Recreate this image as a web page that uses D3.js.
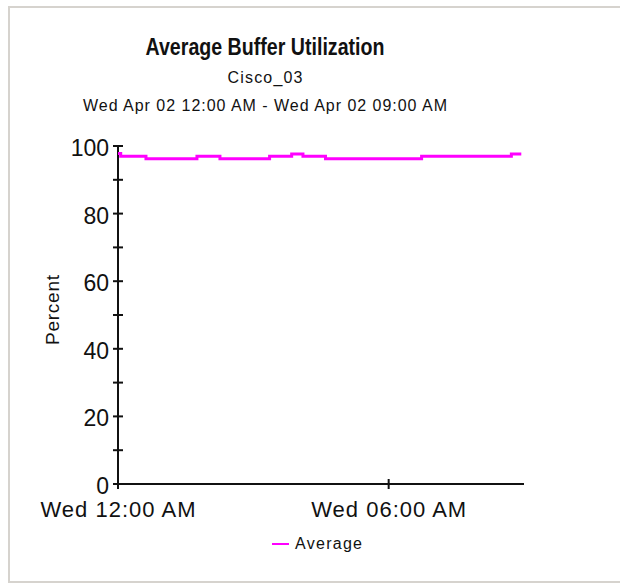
<!DOCTYPE html>
<html>
<head>
<meta charset="utf-8">
<script src="https://cdn.jsdelivr.net/npm/d3@7"></script>
<style>
	body { margin: 0; background: white; overflow: hidden; }
	svg { display: block; }
	text { font-family: Arial, "Liberation Sans", sans-serif; fill: #111; }
</style>
</head>
<body>
<script>
	// change points of the Average series, in hours after Wed 12:00 AM
	var hours  = [0, 0.06, 0.62, 1.75, 2.26, 3.36, 3.85, 4.10, 4.60, 6.73, 8.72, 8.94];
	var values = [97.8, 97.0, 96.2, 97.0, 96.2, 97.0, 97.6, 97.0, 96.2, 97.0, 97.6, 97.6];
	var yTicks = [0, 20, 40, 60, 80, 100];
	var xTicks = [0, 6];
	var xTickLabels = ["Wed 12:00 AM", "Wed 06:00 AM"];

	var width = 620, height = 584;
	var data = hours.map(function(h, i){ return {h: h, v: values[i]}; });

	var svg = d3.select("body").append("svg")
		.attr("width", width)
		.attr("height", height);

	// panel frame (right side is off the picture)
	svg.append("path")
		.attr("d", "M630,7 H9 V582 H630")
		.attr("fill", "none")
		.attr("stroke", "#d6d3ce")
		.attr("stroke-width", 2);

	var x = d3.scaleLinear().domain([0, 9]).range([118, 524]);
	var y = d3.scaleLinear().domain([0, 100]).range([484, 146]);

	// titles
	svg.append("text").attr("x", 265).attr("y", 55)
		.attr("text-anchor", "middle")
		.style("font-size", "23px").style("font-weight", "bold")
		.attr("textLength", 239).attr("lengthAdjust", "spacingAndGlyphs")
		.text("Average Buffer Utilization");
	svg.append("text").attr("x", 265).attr("y", 83)
		.attr("text-anchor", "middle")
		.style("font-size", "16px")
		.attr("textLength", 75)
		.text("Cisco_03");
	svg.append("text").attr("x", 265).attr("y", 111)
		.attr("text-anchor", "middle")
		.style("font-size", "16px")
		.attr("textLength", 364)
		.text("Wed Apr 02 12:00 AM - Wed Apr 02 09:00 AM");

	// y axis
	svg.append("line")
		.attr("x1", x(0)).attr("x2", x(0))
		.attr("y1", y(0)).attr("y2", y(100))
		.attr("stroke", "#111").attr("stroke-width", 2);
	svg.selectAll(".ytick")
		.data(d3.range(0, 101, 10))
		.enter().append("line")
		.attr("x1", x(0) - 5).attr("x2", x(0) + 5)
		.attr("y1", function(d){ return y(d); })
		.attr("y2", function(d){ return y(d); })
		.attr("stroke", "#111").attr("stroke-width", 2);
	svg.selectAll(".ylab")
		.data(yTicks)
		.enter().append("text")
		.attr("x", 109)
		.attr("y", function(d){ return y(d) + 10; })
		.attr("text-anchor", "end")
		.style("font-size", "23px")
		.text(function(d){ return d; });

	svg.append("text")
		.attr("transform", "translate(59,310) rotate(-90)")
		.attr("text-anchor", "middle")
		.style("font-size", "19px")
		.attr("textLength", 70)
		.text("Percent");

	// x axis
	svg.append("line")
		.attr("x1", x(0) - 4).attr("x2", x(9))
		.attr("y1", y(0)).attr("y2", y(0))
		.attr("stroke", "#111").attr("stroke-width", 2);
	svg.selectAll(".xtick")
		.data(xTicks)
		.enter().append("line")
		.attr("x1", function(d){ return x(d); })
		.attr("x2", function(d){ return x(d); })
		.attr("y1", y(0) - 5).attr("y2", y(0) + 5)
		.attr("stroke", "#111").attr("stroke-width", 2);
	svg.selectAll(".xlab")
		.data(xTicks)
		.enter().append("text")
		.attr("x", function(d){ return x(d); })
		.attr("y", 517)
		.attr("text-anchor", "middle")
		.style("font-size", "22px")
		.attr("textLength", 155)
		.text(function(d, i){ return xTickLabels[i]; });

	// series
	var line = d3.line()
		.x(function(d){ return x(d.h); })
		.y(function(d){ return y(d.v); })
		.curve(d3.curveStepAfter);
	svg.append("path")
		.datum(data)
		.attr("d", line)
		.attr("fill", "none")
		.attr("stroke", "#ff00ff")
		.attr("stroke-width", 3);

	// legend
	svg.append("line")
		.attr("x1", 272).attr("x2", 289)
		.attr("y1", 544).attr("y2", 544)
		.attr("stroke", "#ff00ff").attr("stroke-width", 2);
	svg.append("text")
		.attr("x", 295).attr("y", 549)
		.style("font-size", "16px")
		.attr("textLength", 67)
		.text("Average");
</script>
</body>
</html>
